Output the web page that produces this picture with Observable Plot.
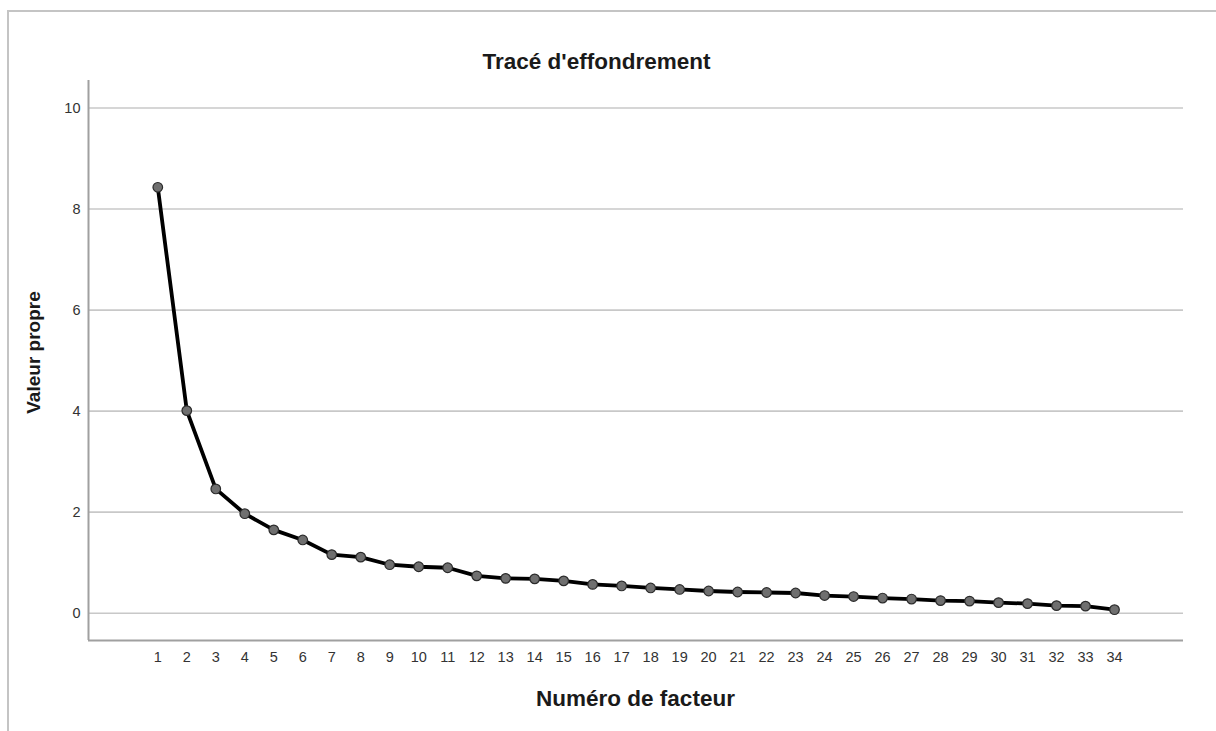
<!DOCTYPE html>
<html>
<head>
<meta charset="utf-8">
<script src="https://cdn.jsdelivr.net/npm/d3@7"></script>
<script src="https://cdn.jsdelivr.net/npm/@observablehq/plot@0.6"></script>
<style>
  html, body { margin: 0; padding: 0; background: #fff; width: 1216px; height: 731px; overflow: hidden; }
  #frame { position: absolute; left: 7px; top: 10px; width: 1300px; height: 800px;
           border-left: 2px solid #c4c4c4; border-top: 2px solid #c4c4c4; }
  #chart { position: absolute; left: 0; top: 0; }
</style>
</head>
<body>
<div id="frame"></div>
<div id="chart"></div>
<script>
const factors = d3.range(1, 35);
const eigenvalues = [8.43, 4.01, 2.46, 1.97, 1.65, 1.45, 1.16, 1.11, 0.96, 0.92,
  0.90, 0.74, 0.69, 0.68, 0.64, 0.57, 0.54, 0.50, 0.47, 0.44,
  0.42, 0.41, 0.40, 0.35, 0.33, 0.30, 0.28, 0.25, 0.24, 0.21,
  0.19, 0.15, 0.14, 0.07];
const yTicks = [0, 2, 4, 6, 8, 10];
const xTicks = factors;
const title = "Tracé d'effondrement";
const xLabel = "Numéro de facteur";
const yLabel = "Valeur propre";

const data = factors.map((f, i) => ({factor: f, value: eigenvalues[i]}));
const xDomain = [-1.39, 36.38];
const yDomain = [-0.54, 10.544];
const font = "'Liberation Sans', Arial, sans-serif";

const chart = Plot.plot({
  width: 1216,
  height: 731,
  marginLeft: 88,
  marginRight: 33,
  marginTop: 80,
  marginBottom: 91,
  style: {fontFamily: font, background: "transparent", overflow: "visible"},
  x: {domain: xDomain, ticks: xTicks, label: null},
  y: {domain: yDomain, ticks: yTicks, label: null},
  marks: [
    Plot.ruleY(yTicks, {stroke: "#c8c8c8", strokeWidth: 1.6}),
    Plot.ruleX([xDomain[0]], {stroke: "#a0a0a0", strokeWidth: 2}),
    Plot.ruleY([yDomain[0]], {stroke: "#a0a0a0", strokeWidth: 2}),
    Plot.axisY(yTicks, {tickSize: 0, tickPadding: 8, fontSize: 14.5, fill: "#333", tickFormat: d => d}),
    Plot.axisX(xTicks, {tickSize: 0, tickPadding: 11, fontSize: 14.5, fill: "#333", tickFormat: d => d}),
    Plot.line(data, {x: "factor", y: "value", stroke: "#000", strokeWidth: 3.8, strokeLinejoin: "round"}),
    Plot.dot(data, {x: "factor", y: "value", r: 4.8, fill: "#6f6f6f", stroke: "#2a2a2a", strokeWidth: 1.2}),
    Plot.text([title], {frameAnchor: "top-left", dx: 596 - 88, dy: -19, text: d => d,
      fontSize: 22.5, fontWeight: "bold", fill: "#1a1a1a", textAnchor: "middle", lineAnchor: "middle"}),
    Plot.text([xLabel], {frameAnchor: "bottom-left", dx: 635 - 88, dy: 58, text: d => d,
      fontSize: 22.5, fontWeight: "bold", fill: "#1a1a1a", textAnchor: "middle", lineAnchor: "middle"}),
    Plot.text([yLabel], {frameAnchor: "top-left", dx: 33 - 88, dy: 352 - 80, rotate: -90, text: d => d,
      fontSize: 19, fontWeight: "bold", fill: "#1a1a1a", textAnchor: "middle", lineAnchor: "middle"})
  ]
});
document.getElementById("chart").appendChild(chart);
</script>
</body>
</html>
